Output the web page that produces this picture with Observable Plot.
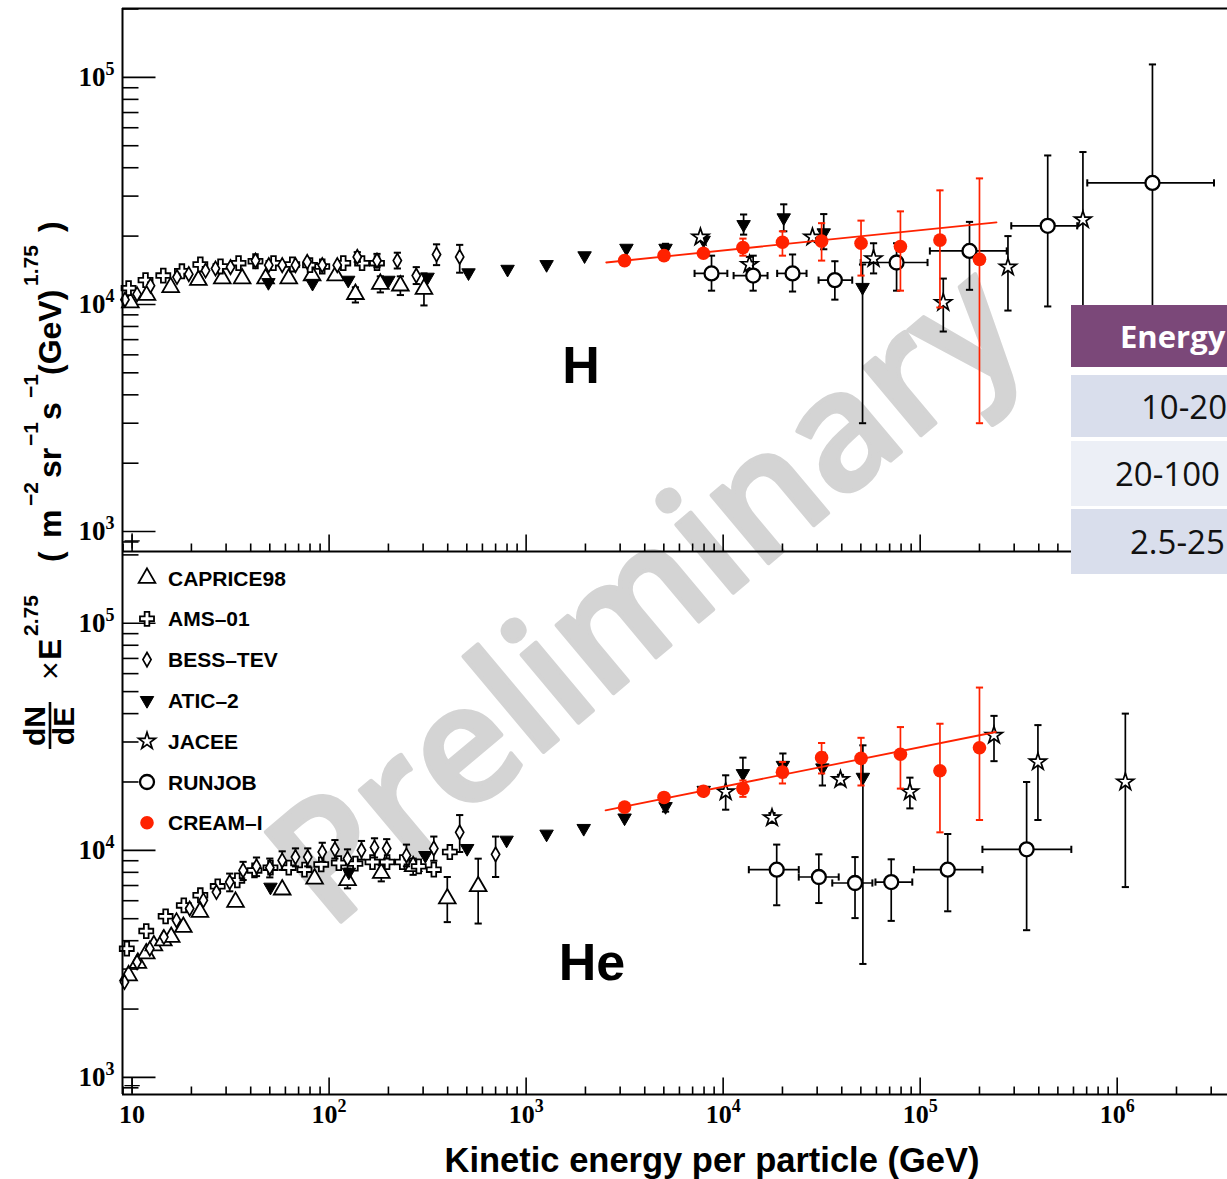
<!DOCTYPE html>
<html>
<head>
<meta charset="utf-8">
<script src="https://cdn.jsdelivr.net/npm/d3@7"></script>
<script src="https://cdn.jsdelivr.net/npm/@observablehq/plot@0.6"></script>
<style>
  html, body { margin: 0; padding: 0; background: #fff; overflow: hidden; }
  #figure { position: relative; width: 1227px; height: 1179px; overflow: hidden; background: #fff; }
  #figure > svg { position: absolute; left: 0; }
  #energy { position: absolute; left: 1071px; top: 305px; width: 220px; height: 270px; font-family: "Open Sans", sans-serif; }
  #energy div { position: absolute; left: 0; width: 220px; display: flex; align-items: center; box-sizing: border-box; font-size: 33px; color: #111; line-height: 1; white-space: nowrap; }
  #energy .head { background: #7b4879; color: #fff; font-weight: bold; font-size: 31px; }
</style>
</head>
<body>
<div id="figure"></div>
<script>
// ---- Flux data, E^2.75 weighted: rows are [E (GeV), flux, low, high, Elow, Ehigh] ----
// Proton (H)
const capriceH = [[9.8,10200],[11.9,11000],[15.7,11900],[21.7,12800],[28.7,13000],[36.2,13000],[47.6,13000],[62.4,13000],[82,13400],[108,13400],
  [136,11100,10200,11900],[182,12300,11300,13300],[230,12100,11000,13300],[303,11700,9900,13700]];
const amsH = [[9.6,11800],[11.7,12800],[14.4,13400],[17.9,14000],[22.2,15000],[28.1,14700],[34.7,15200],[42.3,15500],[52.2,15200],[65,15000],
  [80,14900],[92.3,14700],[118,15200],[147,15200],[175,15200]];
const bessH = [[9.2,10500],[10.6,11100],[12.4,12100],[16.9,13200],[19.4,13600],[23.6,14100],[26.5,14400],[31.6,14600],[42.3,15600],[49.4,14900],
  [57.8,14900],[67.5,14900],[77.4,15400],[92.3,14900],[110,14900],[139,16200,15400,17000],[175,15600,14600,16700],[222,15600,14400,16900],
  [277,13400,12300,14600],[351,16600,14900,18400],[460,16200,13800,18300]];
const aticH = [[49.2,12500],[82.4,12400],[125,12800],[200,12800],[316,13200],[510,13800],[805,14300],[1270,15000],[1980,16400],[3230,17700],
  [5100,17700,17000,18500],[7960,19200],[12700,22500,20300,24900],[20300,24100,21000,27600],[32400,20700,17500,25000],[51000,11900,3000,15000]];
const jaceeH = [[7670,19800],[13600,15000,14000,16200],[28400,19800],[58000,15900,13700,18600],[131000,10200,7600,13000],
  [279000,14600,9400,20000],[670000,23600,9000,46900]];
const runjobH = [[8730,13700,11500,16400,7160,10500],[14200,13400,11500,16400,11300,16800],[22500,13700,11400,16600,18800,26500],
  [36900,12800,10500,15500,30500,45200],[75900,15300,11500,18600,49900,109000],[178000,17200,11600,23100,112000,275000],
  [444000,22200,9800,45300,290000,627000],[1510000,34300,9000,114000,705000,3100000]];
const creamH = [[3160,15600],[5010,16400],[7940,16800],[12600,17800,16400,19500],[20000,18800,16400,21000],[31600,19000,15600,22800],
  [50100,18600,13400,23400],[79400,18000,11500,25700],[126000,19200,9700,31800],[200000,15800,3000,35900]];
const fitH = [[2550,15300],[244000,23000]];
const cornerH = [[10,910]];

// Helium (He)
const capriceHe = [[9.6,2810],[10.7,3190],[11.8,3510],[12.9,3810],[14.4,4010],[15.8,4150],[18.2,4590],[22.1,5350],[33.5,5920],[57.8,6710],
  [84.4,7500],[124,7380,6800,8000],[184,7940,7300,8600],[267,8500,7800,9200],[398,6130,4830,7630],[571,6940,4760,9190]];
const amsHe = [[9.4,3690],[11.8,4410],[14.8,5120],[18.3,5720],[22.2,6340],[27.2,6940],[34.2,7370],[41.8,8160],[50.4,8390],[62.4,8390],
  [75,8220],[91.2,8670],[112,8790],[136,8740],[166,8880],[197,8880],[235,8880],[285,8500],[340,8220],[410,9830]];
const bessHe = [[9.15,2630],[10.6,3220],[12.3,3690],[14.5,4150],[16.8,4920],[19.6,5540],[23,6030],[26.8,6550],[31.3,7250,6600,7900],
  [36.6,8160,7400,8900],[42.8,8500,7700,9300],[50,8390,7600,9200],[57.8,9030,8200,9900],[67.5,9340,8500,10200],[77.9,9340,8500,10200],
  [92.3,9830,8900,10800],[107,10100,9200,11100],[124,9190,8300,10100],[146,10000,9100,11000],[170,10300,9300,11300],[196,10200,9200,11200],
  [247,9500,8500,10600],[340,10200,9000,11500],[460,12000,9830,14300],[700,9600,7630,11500]];
const aticHe = [[50.4,6890],[126,8020],[308,9500],[502,10200],[796,11100],[1270,11800],[1960,12500],[3160,13900],[5100,15600,14800,16400],
  [7970,18400],[12600,21800,19400,25600],[20100,23700,21000,26700],[31900,23100,19300,26900],[51200,21000,3160,29000]];
const jaceeHe = [[10300,18100,15100,21400],[17700,13900,13200,14600],[39400,20500,19500,21500],[88700,18100,15300,20900],
  [237000,32100,24700,39100],[396000,24500,13600,35600],[1100000,20000,6890,40000]];
const runjobHe = [[18700,8220,5730,10600,13500,24200],[30600,7630,5860,9600,24200,38600],[46700,7180,5030,9340,35800,57200],
  [71300,7250,4890,9130,59300,91200],[138000,8220,5390,11800,92900,207000],[347000,10100,4450,20000,207000,585000]];
const creamHe = [[3160,15500],[5010,17100],[7940,18200],[12600,18700,17200,20300],[20000,22100,19700,24500],[31600,25600,21800,29700],
  [50100,25400,19300,31300],[79400,26500,18700,34900],[126000,22400,12000,36100],[200000,28300,13600,52100]];
const fitHe = [[2530,15000],[242000,33200]];
const cornerHe = [[10,920]];

// Experiments, in drawing / legend order
const experiments = ["CAPRICE98", "AMS–01", "BESS–TEV", "ATIC–2", "JACEE", "RUNJOB", "CREAM–I"];
const panelLabels = ["H", "He"];
const tableHead = "Energy";
const tableRows = ["10-20", "20-100", "2.5-25"];

// Axis ticks
const majorX = [10, 100, 1e3, 1e4, 1e5, 1e6];
const majorY = [1e3, 1e4, 1e5];
const xDomain = [8.94, 3.63e6];
const yDomainH = [817, 2.01e5];
const yDomainHe = [841, 2.07e5];

const minorOf = (lo, hi) => {
  const out = [];
  for (let p = Math.floor(Math.log10(lo)); p <= Math.ceil(Math.log10(hi)); ++p)
    for (let k = 2; k <= 9; ++k) { const v = k * 10 ** p; if (v > lo && v < hi) out.push(v); }
  return out;
};

const RED = "#ff2200";
const styles = {
  "CAPRICE98": {symbol: "triangle", r: 6.2, fill: "white", stroke: "black", strokeWidth: 1.8},
  "AMS–01":    {symbol: "cross", r: 5.9, fill: "white", stroke: "black", strokeWidth: 1.8},
  "BESS–TEV":  {symbol: "diamond", r: 4.3, fill: "white", stroke: "black", strokeWidth: 1.7},
  "ATIC–2":    {symbol: "triangle", r: 5.0, fill: "black", stroke: "black", strokeWidth: 1, rotate: 180},
  "JACEE":     {symbol: "star", r: 5.3, fill: "white", stroke: "black", strokeWidth: 1.7},
  "RUNJOB":    {symbol: "circle", r: 7, fill: "white", stroke: "black", strokeWidth: 2.3},
  "CREAM–I":   {symbol: "circle", r: 6.8, fill: RED, stroke: "none", strokeWidth: 0, bar: RED}
};

// Stroke-only glyphs used for error-bar caps and inward axis ticks
const capH = {draw(c, s) { const w = Math.sqrt(s / Math.PI); c.moveTo(-w, 0); c.lineTo(w, 0); }};
const capV = {draw(c, s) { const w = Math.sqrt(s / Math.PI); c.moveTo(0, -w); c.lineTo(0, w); }};
const tickRight = {draw(c, s) { const l = Math.sqrt(s / Math.PI); c.moveTo(0, 0); c.lineTo(l, 0); }};
const tickUp = {draw(c, s) { const l = Math.sqrt(s / Math.PI); c.moveTo(0, 0); c.lineTo(0, -l); }};

const powFormat = d => d === 10 ? "10" : "10|" + Math.round(Math.log10(d));

function seriesMarks(rows, st) {
  const col = st.bar || "black";
  const vb = rows.filter(d => d.length >= 4);
  const hb = rows.filter(d => d.length >= 6);
  const capOpts = {symbol: capH, r: 3.6, stroke: col, strokeWidth: 2, fill: "none"};
  const vcapOpts = {symbol: capV, r: 3.6, stroke: col, strokeWidth: 2, fill: "none"};
  return [
    Plot.ruleX(vb, {x: d => d[0], y1: d => d[2], y2: d => d[3], stroke: col, strokeWidth: 1.7}),
    Plot.dot(vb, {x: d => d[0], y: d => d[2], ...capOpts}),
    Plot.dot(vb, {x: d => d[0], y: d => d[3], ...capOpts}),
    Plot.ruleY(hb, {y: d => d[1], x1: d => d[4], x2: d => d[5], stroke: col, strokeWidth: 1.7}),
    Plot.dot(hb, {x: d => d[4], y: d => d[1], ...vcapOpts}),
    Plot.dot(hb, {x: d => d[5], y: d => d[1], ...vcapOpts}),
    Plot.dot(rows, {x: d => d[0], y: d => d[1], symbol: st.symbol, r: st.r, fill: st.fill,
      stroke: st.stroke, strokeWidth: st.strokeWidth, rotate: st.rotate || 0})
  ];
}

function panel(cfg) {
  const tickStyle = {stroke: "black", fill: "none", strokeWidth: 1.6};
  const marks = [
    Plot.dot(majorY, {y: d => d, frameAnchor: "left", symbol: tickRight, r: 33, ...tickStyle}),
    Plot.dot(minorOf(cfg.yDomain[0], cfg.yDomain[1]), {y: d => d, frameAnchor: "left", symbol: tickRight, r: 16, ...tickStyle}),
    Plot.dot(majorX, {x: d => d, frameAnchor: "bottom", symbol: tickUp, r: 17, ...tickStyle}),
    Plot.dot(minorOf(xDomain[0], xDomain[1]), {x: d => d, frameAnchor: "bottom", symbol: tickUp, r: 8, ...tickStyle}),
    Plot.axisY({ticks: majorY, tickSize: 0, tickPadding: 8, tickFormat: powFormat, label: null,
      fontSize: 27, fontFamily: "Liberation Serif", fontWeight: "bold"}),
    Plot.text([cfg.label], {text: d => d, frameAnchor: "middle", dx: cfg.labelDx, dy: cfg.labelDy,
      fontSize: 52, fontWeight: "bold", fontFamily: "Liberation Sans"})
  ];
  if (cfg.xLabels) marks.push(Plot.axisX({ticks: majorX, tickSize: 0, tickPadding: 10, tickFormat: powFormat, label: null,
      fontSize: 26, fontFamily: "Liberation Serif", fontWeight: "bold"}));
  cfg.series.forEach((rows, i) => marks.push(...seriesMarks(rows, styles[experiments[i]])));
  marks.push(Plot.line(cfg.fit, {x: d => d[0], y: d => d[1], stroke: RED, strokeWidth: 1.8}));
  marks.push(Plot.dot(cfg.corner, {x: d => d[0], y: d => d[1], symbol: "plus", r: 5, stroke: "black", strokeWidth: 1.3}));
  marks.push(Plot.ruleX([xDomain[0]], {stroke: "black", strokeWidth: 2}));
  marks.push(Plot.ruleY([cfg.yDomain[0]], {stroke: "black", strokeWidth: 2}));
  if (cfg.topRule) marks.push(Plot.ruleY([cfg.yDomain[1]], {stroke: "black", strokeWidth: 2}));

  const svg = Plot.plot({
    width: 1227, height: cfg.height,
    marginLeft: 122, marginRight: 0, marginTop: cfg.marginTop, marginBottom: cfg.marginBottom,
    x: {type: "log", domain: xDomain, axis: cfg.xLabels ? undefined : null},
    y: {type: "log", domain: cfg.yDomain},
    style: {background: "transparent"},
    marks
  });
  // Power-of-ten tick labels: raise the exponent
  d3.select(svg).selectAll("text").each(function () {
    const t = this.textContent;
    if (!t.includes("|")) return;
    const [base, exp] = t.split("|");
    const s = d3.select(this).text(null);
    s.append("tspan").text(base);
    s.append("tspan").attr("font-size", 18).attr("dy", "-0.62em").text(exp);
  });
  svg.style.top = cfg.top + "px";
  return svg;
}

const fig = d3.select("#figure");

// Watermark behind the data
const wm = fig.append("svg").attr("width", 1227).attr("height", 1179).style("top", "0px");
wm.append("text").attr("transform", "translate(640,588) rotate(-40)")
  .attr("text-anchor", "middle").attr("dominant-baseline", "central")
  .attr("font-family", "Open Sans").attr("font-weight", 600).attr("font-size", 164)
  .attr("fill", "#d4d4d4").attr("stroke", "#d4d4d4").attr("stroke-width", 4).attr("stroke-linejoin", "round")
  .text("Preliminary");

fig.node().appendChild(panel({
  series: [capriceH, amsH, bessH, aticH, jaceeH, runjobH, creamH], fit: fitH, corner: cornerH,
  yDomain: yDomainH, top: 0, height: 560, marginTop: 8, marginBottom: 9, topRule: true,
  label: panelLabels[0], labelDx: -94, labelDy: 86, xLabels: false
}));
fig.node().appendChild(panel({
  series: [capriceHe, amsHe, bessHe, aticHe, jaceeHe, runjobHe, creamHe], fit: fitHe, corner: cornerHe,
  yDomain: yDomainHe, top: 540, height: 639, marginTop: 11, marginBottom: 85, topRule: false,
  label: panelLabels[1], labelDx: -83, labelDy: 140, xLabels: true
}));

// Titles and legend
const ov = fig.append("svg").attr("width", 1227).attr("height", 1179).style("top", "0px")
  .attr("font-family", "Liberation Sans, Arial, sans-serif").attr("font-weight", "bold");

ov.append("text").attr("x", 712).attr("y", 1172).attr("text-anchor", "middle").attr("font-size", 34.5)
  .text("Kinetic energy per particle (GeV)");

// Rotated y title: fraction dN/dE followed by the weighted-flux units
const yt = ov.append("g").attr("transform", "translate(62,752) rotate(-90)");
yt.append("text").attr("x", 26).attr("y", -17).attr("text-anchor", "middle").attr("font-size", 30).text("dN");
yt.append("line").attr("x1", 3).attr("x2", 50).attr("y1", -12).attr("y2", -12).attr("stroke", "black").attr("stroke-width", 2.6);
yt.append("text").attr("x", 26).attr("y", 12).attr("text-anchor", "middle").attr("font-size", 30).text("dE");
[
  {t: "×", x: 72, w: "normal"}, {t: "E", x: 92}, {t: "2.75", x: 116, sup: true},
  {t: "(", x: 190}, {t: "m", x: 214}, {t: "−2", x: 246, sup: true},
  {t: "sr", x: 274}, {t: "−1", x: 306, sup: true}, {t: "s", x: 332}, {t: "−1", x: 354, sup: true},
  {t: "(GeV)", x: 377}, {t: "1.75", x: 466, sup: true}, {t: ")", x: 520}
].forEach(p => {
  const el = yt.append("text").attr("x", p.x).attr("y", p.sup ? -24 : -1)
    .attr("font-size", p.sup ? 21 : 32).text(p.t);
  if (p.w) el.attr("font-weight", p.w);
});

const symbolTypes = {triangle: d3.symbolTriangle, cross: d3.symbolCross, diamond: d3.symbolDiamond, star: d3.symbolStar, circle: d3.symbolCircle};
const lg = ov.append("g").attr("transform", "translate(147,578)");
experiments.forEach((name, i) => {
  const st = styles[name];
  const row = lg.append("g").attr("transform", `translate(0,${i * 40.8})`);
  row.append("path").attr("d", d3.symbol(symbolTypes[st.symbol], Math.PI * st.r * st.r)())
    .attr("transform", `rotate(${st.rotate || 0})`)
    .attr("fill", st.fill).attr("stroke", st.stroke).attr("stroke-width", st.strokeWidth);
  row.append("text").attr("x", 21).attr("dy", "0.36em").attr("font-size", 21).text(name);
});

// Energy table at the right edge
const tb = fig.append("div").attr("id", "energy");
const boxes = [{top: 0, h: 62, pad: 49, bg: "#7b4879", cls: "head"}, {top: 70, h: 62, pad: 70, bg: "#d9deec"},
  {top: 136, h: 65, pad: 44, bg: "#ecEff6"}, {top: 204, h: 65, pad: 59, bg: "#d9deec"}];
[tableHead, ...tableRows].forEach((t, i) => {
  const b = boxes[i];
  tb.append("div").attr("class", b.cls || null)
    .style("top", b.top + "px").style("height", b.h + "px").style("padding-left", b.pad + "px").style("background", b.bg)
    .text(t);
});
</script>
</body>
</html>
